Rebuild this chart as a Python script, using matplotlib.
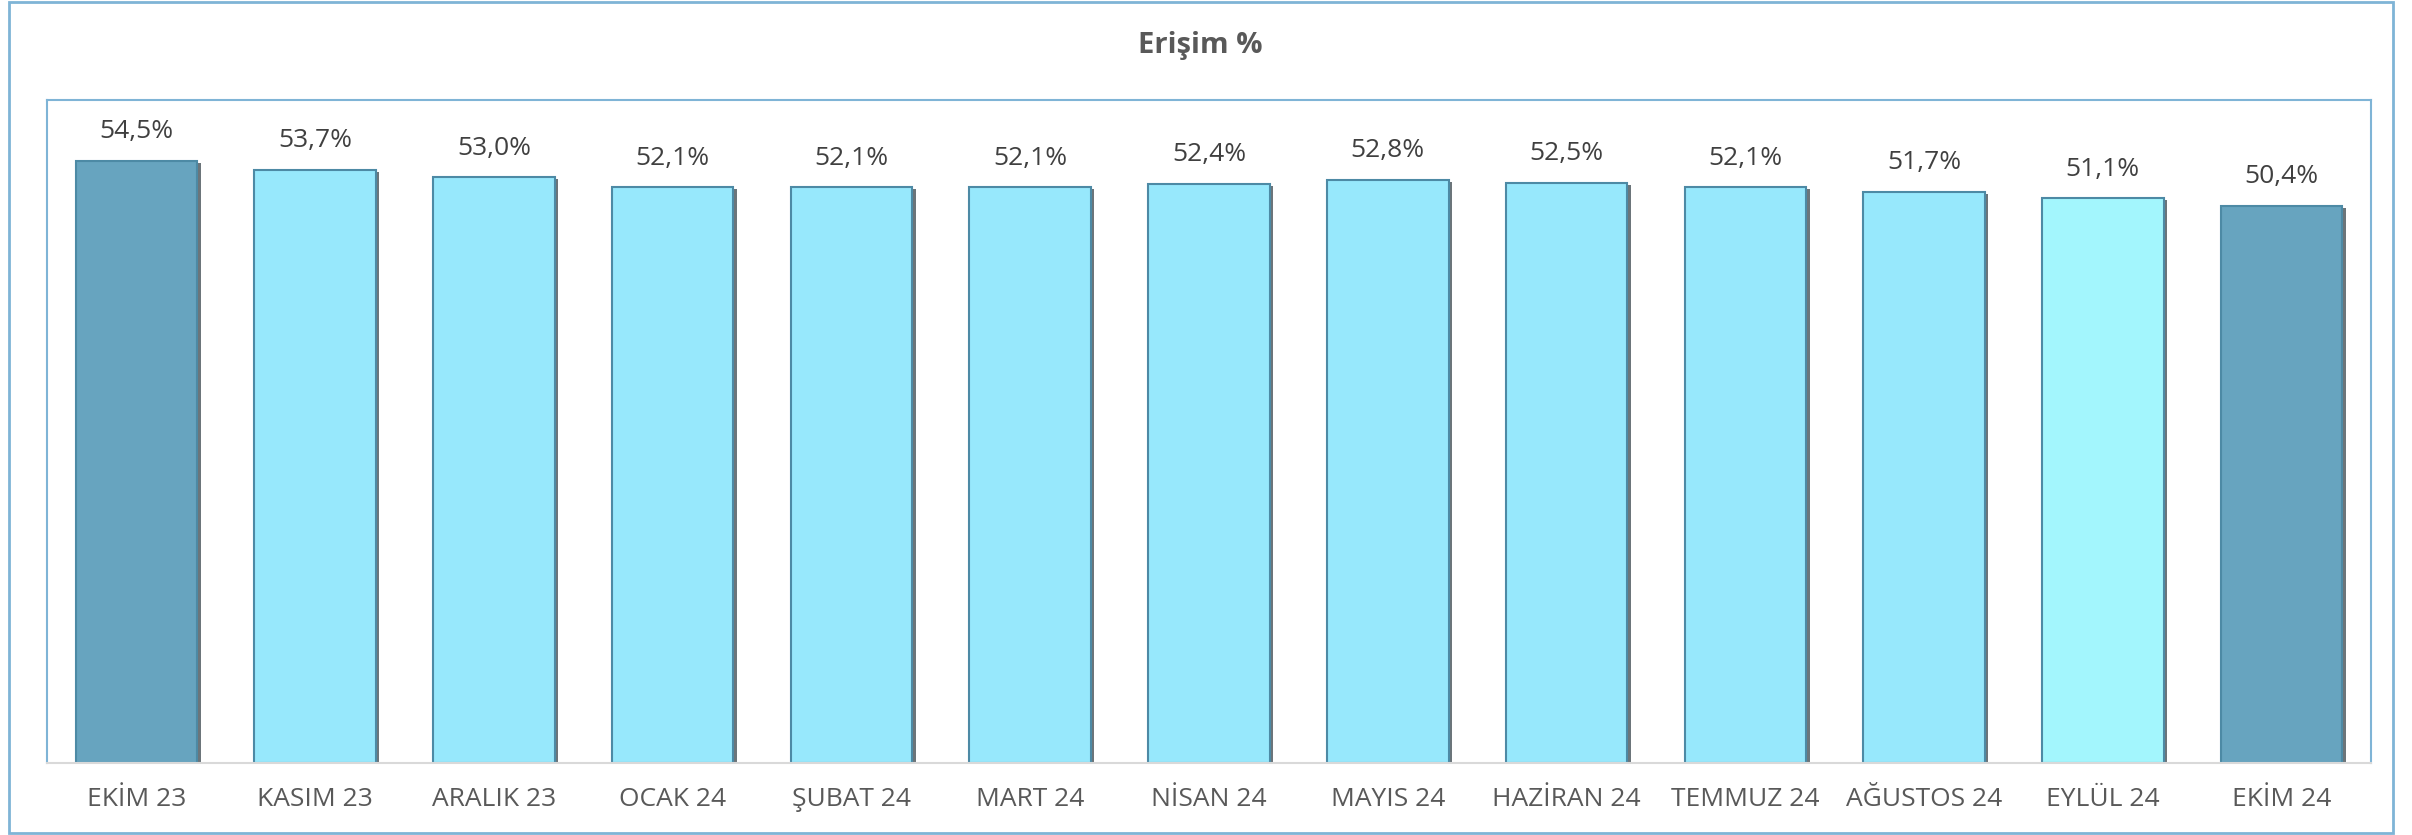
import matplotlib.pyplot as plt
import matplotlib.patheffects as pe
from matplotlib.patches import Rectangle

months = ["EKİM 23", "KASIM 23", "ARALIK 23", "OCAK 24", "ŞUBAT 24", "MART 24", "NİSAN 24",
          "MAYIS 24", "HAZİRAN 24", "TEMMUZ 24", "AĞUSTOS 24", "EYLÜL 24", "EKİM 24"]
erisim = [54.5, 53.7, 53.0, 52.1, 52.1, 52.1, 52.4, 52.8, 52.5, 52.1, 51.7, 51.1, 50.4]
bar_colors = ["#67a4bf", "#97e8fc", "#97e8fc", "#97e8fc", "#97e8fc", "#97e8fc", "#97e8fc",
              "#97e8fc", "#97e8fc", "#97e8fc", "#97e8fc", "#a3f6fd", "#67a4bf"]

plt.rcParams['font.family'] = ['Open Sans', 'DejaVu Sans']

W, H = 2412, 835
fig = plt.figure(figsize=(W / 100, H / 100), dpi=100)

# outer chart border
fig.patches.append(Rectangle((9 / W, 2 / H), (2393 - 9) / W, (833 - 2) / H,
                             transform=fig.transFigure, fill=False,
                             edgecolor="#7fb4d6", linewidth=2))

ax = fig.add_axes([47 / W, (H - 763) / H, (2371 - 47) / W, (763 - 100) / H])
x = range(len(months))
bars = ax.bar(x, erisim, width=0.68, color=bar_colors, edgecolor="#4d8aa5", linewidth=1.5)
for b in bars:
    b.set_path_effects([pe.SimplePatchShadow(offset=(2.5, -1.5), shadow_rgbFace="#0a1a22", alpha=0.6),
                        pe.Normal()])

for xi, v in zip(x, erisim):
    ax.annotate(f"{v:.1f}%".replace(".", ","), (xi, v), xytext=(0, 12),
                textcoords="offset points", ha="center", va="bottom",
                fontsize=19, color="#404040")

ax.set_ylim(0, 60)
ax.set_xlim(-0.5, 12.5)
ax.set_yticks([])
ax.set_xticks(list(x))
ax.set_xticklabels(months, fontsize=19, color="#595959")
ax.tick_params(axis="x", length=0, pad=17)
for s in ["left", "top", "right"]:
    ax.spines[s].set_color("#7fb4d6")
    ax.spines[s].set_linewidth(1.5)
ax.spines["bottom"].set_color("#d9d9d9")
ax.spines["bottom"].set_linewidth(1.5)

fig.text(1200 / W, 1 - 45 / H, "Erişim %", ha="center", va="center",
         fontsize=21, fontweight="bold", color="#595959")

fig.savefig("out.png", dpi=100)
